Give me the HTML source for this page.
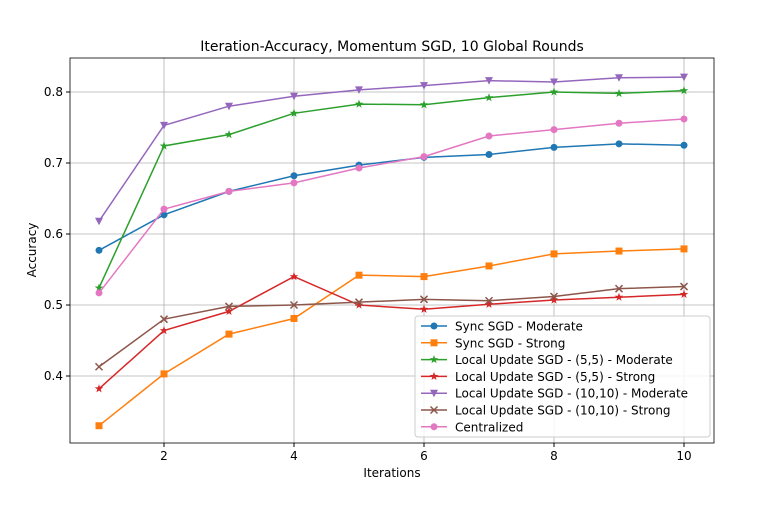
<!DOCTYPE html>
<html><head><meta charset="utf-8"><style>
body{margin:0;background:#fff;}
svg{font-family:"DejaVu Sans","Liberation Sans",sans-serif;}
</style></head><body>
<svg id="chart" width="777" height="526" viewBox="0 0 777 526">
<text x="392" y="51" text-anchor="middle" font-size="14">Iteration-Accuracy, Momentum SGD, 10 Global Rounds</text>
<g id="grid"></g><g id="series"></g><g id="axes"></g><g id="legend"></g>
<text x="392" y="477" text-anchor="middle" font-size="12">Iterations</text>
<text x="0" y="0" transform="translate(36,250) rotate(-90)" text-anchor="middle" font-size="12">Accuracy</text>
</svg>
<script>
const iterations=[1,2,3,4,5,6,7,8,9,10];
const syncModerate=[0.577,0.627,0.660,0.682,0.697,0.708,0.712,0.722,0.727,0.725];
const syncStrong=[0.330,0.403,0.459,0.481,0.542,0.540,0.555,0.572,0.576,0.579];
const local55Moderate=[0.524,0.724,0.740,0.770,0.783,0.782,0.792,0.800,0.798,0.802];
const local55Strong=[0.382,0.464,0.491,0.540,0.500,0.494,0.501,0.507,0.511,0.515];
const local1010Moderate=[0.618,0.753,0.780,0.794,0.803,0.809,0.816,0.814,0.820,0.821];
const local1010Strong=[0.413,0.480,0.498,0.500,0.504,0.508,0.506,0.512,0.523,0.526];
const centralized=[0.517,0.635,0.660,0.672,0.693,0.709,0.738,0.747,0.756,0.762];
const xTicks=[2,4,6,8,10];
const yTicks=[0.4,0.5,0.6,0.7,0.8];
const seriesNames=["Sync SGD - Moderate","Sync SGD - Strong","Local Update SGD - (5,5) - Moderate","Local Update SGD - (5,5) - Strong","Local Update SGD - (10,10) - Moderate","Local Update SGD - (10,10) - Strong","Centralized"];
const seriesData=[syncModerate,syncStrong,local55Moderate,local55Strong,local1010Moderate,local1010Strong,centralized];
const colors=["#1f77b4","#ff7f0e","#2ca02c","#d62728","#9467bd","#8c564b","#e377c2"];
const markers=["o","s","*","*","v","x","o"];
const L=70,R=714,T=58,B=443;
const xs=v=>99+(v-1)*65;
const ys=v=>305-(v-0.5)*710;
const NS="http://www.w3.org/2000/svg";
function mk(t,a,p){const e=document.createElementNS(NS,t);for(const k in a)e.setAttribute(k,a[k]);p.appendChild(e);return e;}
const grid=document.getElementById('grid'),axes=document.getElementById('axes'),ser=document.getElementById('series'),leg=document.getElementById('legend');
xTicks.forEach(t=>{
const g=mk('line',{x1:xs(t),x2:xs(t),y1:T,y2:B,stroke:'#b0b0b0','stroke-width':0.8},grid);


mk('line',{x1:xs(t),x2:xs(t),y1:B,y2:B+4,stroke:'#000'},axes);
const tx=mk('text',{x:xs(t),y:B+17,'text-anchor':'middle','font-size':12},axes);tx.textContent=t;


});
yTicks.forEach(t=>{
const g=mk('line',{x1:L,x2:R,y1:ys(t),y2:ys(t),stroke:'#b0b0b0','stroke-width':0.8},grid);


mk('line',{x1:L-4,x2:L,y1:ys(t),y2:ys(t),stroke:'#000'},axes);
const tx=mk('text',{x:L-7,y:ys(t)+4,'text-anchor':'end','font-size':12},axes);tx.textContent=t.toFixed(1);


});
const fr=mk('rect',{x:L,y:T,width:R-L,height:B-T,fill:'none',stroke:'#000','stroke-width':0.8},axes);


function marker(m,x,y,c,p){
let e;
if(m==='o')e=mk('circle',{cx:x,cy:y,r:3.5,fill:c},p);
else if(m==='s')e=mk('rect',{x:x-3.5,y:y-3.5,width:7,height:7,fill:c},p);
else if(m==='v')e=mk('polygon',{points:`${x-4},${y-3.5} ${x+4},${y-3.5} ${x},${y+4}`,fill:c},p);
else if(m==='x')e=mk('path',{d:`M${x-3.5},${y-3.5}L${x+3.5},${y+3.5}M${x-3.5},${y+3.5}L${x+3.5},${y-3.5}`,stroke:c,'stroke-width':1.5},p);
else{let pts=[];for(let i=0;i<10;i++){const r=i%2?1.8:4.5,a=-Math.PI/2+i*Math.PI/5;pts.push((x+r*Math.cos(a)).toFixed(1)+','+(y+r*Math.sin(a)).toFixed(1));}e=mk('polygon',{points:pts.join(' '),fill:c},p);}
return e;}
seriesData.forEach((d,i)=>{
const g=mk('g',{},ser);


const pl=mk('polyline',{points:d.map((v,j)=>xs(iterations[j])+','+ys(v)).join(' '),fill:'none',stroke:colors[i],'stroke-width':1.5},g);


d.forEach((v,j)=>{const m=marker(markers[i],xs(iterations[j]),ys(v),colors[i],g);

});
});
const lb=mk('rect',{x:415,y:316,width:295,height:121,fill:'#fff','fill-opacity':0.85,stroke:'#ccc',rx:3},leg);


seriesNames.forEach((n,i)=>{
const y=326+i*16.8;
const g=mk('g',{},leg);


mk('line',{x1:421,x2:447,y1:y,y2:y,stroke:colors[i],'stroke-width':1.5},g);
marker(markers[i],434,y,colors[i],g);
const t=mk('text',{x:455,y:y+4.5,'font-size':12},g);t.textContent=n;
});
</script>
</body></html>
